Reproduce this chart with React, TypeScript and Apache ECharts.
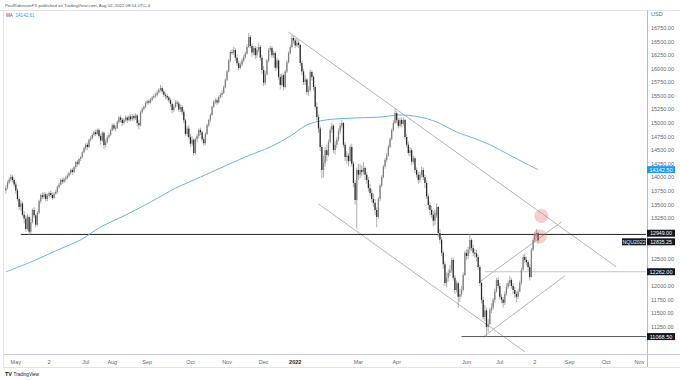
import React, { useEffect, useRef } from 'react';
import * as echarts from 'echarts';

// Daily candles [open, close, low, high], Apr 2021 – Aug 2, 2022 (NQ futures)
const candles: number[][] = [
  [13760,13805,13700,13850],[13810,13900,13780,13940],[13900,13960,13870,14000],[13960,14010,13920,14060],
  [14010,13950,13900,14040],[13950,13870,13820,13990],[13870,13760,13700,13920],[13760,13600,13560,13800],
  [13600,13455,13400,13640],[13460,13520,13380,13580],[13520,13310,13280,13560],[13310,13240,13150,13380],
  [13240,13050,13000,13300],[13050,13280,13020,13320],[13270,13000,12940,13300],[13000,13180,12960,13240],
  [13180,13400,13150,13430],[13400,13300,13250,13450],[13300,13125,13080,13330],[13130,13350,13100,13380],
  [13350,13560,13320,13590],[13560,13675,13520,13700],[13670,13640,13600,13720],[13640,13690,13600,13730],
  [13690,13600,13560,13720],[13600,13660,13560,13700],[13660,13710,13630,13740],[13710,13675,13640,13760],
  [13675,13620,13580,13720],[13620,13700,13600,13730],[13700,13730,13680,13770],[13730,13820,13700,13850],
  [13820,13870,13790,13900],[13870,13950,13850,13980],[13950,13920,13880,13990],[13920,13970,13890,14000],
  [13970,13990,13920,14030],[13990,14030,13960,14060],[14030,14080,14000,14110],[14080,14135,14050,14160],
  [14135,14100,14050,14170],[14100,14190,14080,14210],[14190,14280,14160,14300],[14280,14250,14200,14320],
  [14250,14340,14230,14360],[14340,14375,14300,14400],[14375,14460,14350,14480],[14460,14540,14440,14560],
  [14540,14600,14500,14630],[14600,14560,14500,14640],[14560,14690,14540,14710],[14690,14720,14660,14760],
  [14720,14780,14700,14810],[14780,14830,14750,14860],[14830,14800,14760,14880],[14800,14870,14780,14900],
  [14870,14760,14720,14900],[14760,14680,14600,14800],[14680,14820,14650,14850],[14820,14595,14520,14840],
  [14595,14650,14550,14700],[14650,14740,14620,14770],[14740,14780,14700,14820],[14780,14870,14760,14900],
  [14870,14960,14850,14990],[14960,14900,14860,15000],[14900,14910,14850,14960],[14910,15020,14890,15050],
  [15020,15100,14990,15130],[15100,15060,15010,15140],[15060,15000,14940,15100],[15000,15060,14970,15090],
  [15060,15100,15020,15140],[15100,15050,15000,15130],[15050,15120,15030,15150],[15120,15070,15030,15160],
  [15070,15130,15040,15160],[15130,15090,15040,15170],[15090,15140,15060,15180],[15140,15000,14950,15170],
  [15000,14960,14880,15060],[14960,15200,14940,15230],[15200,15260,15170,15290],[15260,15300,15230,15330],
  [15300,15370,15280,15400],[15370,15400,15340,15430],[15400,15380,15340,15440],[15380,15430,15360,15460],
  [15430,15470,15410,15500],[15470,15500,15450,15540],[15500,15515,15460,15560],[15515,15560,15490,15600],
  [15560,15610,15540,15640],[15610,15645,15580,15700],[15645,15580,15540,15680],[15580,15520,15480,15620],
  [15520,15500,15440,15560],[15500,15470,15420,15540],[15470,15420,15380,15500],[15420,15350,15300,15460],
  [15350,15240,15180,15380],[15240,15300,15200,15340],[15300,15380,15280,15420],[15380,15360,15300,15420],
  [15360,15250,15200,15400],[15250,15295,15200,15340],[15295,15210,15150,15330],[15210,15050,15000,15250],
  [15050,14800,14760,15080],[14800,14900,14750,14950],[14900,14745,14700,14960],[14745,14620,14560,14800],
  [14620,14690,14580,14760],[14690,14450,14400,14720],[14450,14700,14420,14730],[14700,14760,14650,14800],
  [14760,14870,14720,14900],[14870,14830,14780,14920],[14830,14700,14660,14860],[14700,14630,14580,14740],
  [14630,14800,14600,14830],[14800,14960,14780,14990],[14960,15055,14930,15080],[15055,15150,15020,15180],
  [15150,15300,15130,15320],[15300,15390,15280,15420],[15390,15420,15350,15460],[15420,15380,15330,15460],
  [15380,15480,15360,15510],[15480,15520,15450,15560],[15520,15555,15470,15600],[15555,15660,15530,15690],
  [15660,15795,15640,15820],[15795,15950,15770,15980],[15950,16150,15930,16180],[16150,16310,16120,16340],
  [16310,16300,16250,16360],[16300,16345,16260,16400],[16345,16200,16150,16380],[16200,16100,16050,16260],
  [16100,16015,15960,16150],[16015,16080,15990,16120],[16080,16150,16040,16190],[16150,16215,16120,16250],
  [16215,16280,16180,16320],[16280,16400,16260,16450],[16400,16585,16380,16660],[16585,16420,16380,16620],
  [16420,16300,16220,16460],[16300,16380,16250,16420],[16380,16250,16180,16420],[16250,16350,16200,16400],
  [16350,16400,16300,16480],[16400,16200,16150,16440],[16200,15975,15900,16260],[15975,15740,15680,16050],
  [15740,15900,15700,15960],[15900,16150,15880,16180],[16150,16345,16120,16380],[16345,16380,16300,16420],
  [16380,16250,16200,16420],[16250,16290,16200,16340],[16290,16020,15960,16320],[16020,16150,15980,16200],
  [16150,15850,15800,16180],[15850,15700,15620,15900],[15700,15880,15680,15920],[15880,15665,15600,15900],
  [15665,15950,15640,15980],[15950,16120,15920,16160],[16120,16290,16100,16320],[16290,16400,16260,16440],
  [16400,16565,16380,16620],[16565,16520,16460,16600],[16520,16430,16380,16560],[16430,16480,16400,16560],
  [16480,16435,16380,16530],[16435,16105,16050,16460],[16105,15950,15880,16150],[15950,15755,15700,16000],
  [15755,15800,15700,15880],[15800,15570,15520,15830],[15570,15600,15500,15680],[15600,15940,15580,15980],
  [15940,15850,15780,15970],[15850,15665,15600,15880],[15665,15300,15250,15700],[15300,15110,15050,15380],
  [15110,14900,14820,15160],[14900,14560,14480,14950],[14560,14135,13980,14600],[14135,14265,14000,14400],
  [14265,14500,14200,14560],[14500,14410,14300,14600],[14410,14650,14380,14700],[14650,14870,14620,14920],
  [14870,14950,14820,15000],[14950,14505,14450,14980],[14505,14600,14420,14660],[14600,14690,14540,14740],
  [14690,14850,14660,14900],[14850,14950,14800,15000],[14950,15000,14900,15060],[15000,14600,14550,15020],
  [14600,14375,14300,14650],[14375,14400,14250,14480],[14400,14300,14200,14450],[14300,14560,14280,14600],
  [14560,14250,14200,14620],[14250,13895,13820,14300],[13895,13585,13500,13950],[13585,14135,13050,14180],
  [14135,14050,13950,14250],[14050,14135,13980,14250],[14135,14100,14020,14220],[14100,14170,14050,14280],
  [14170,14050,13950,14200],[14050,13950,13880,14100],[13950,13800,13740,14000],[13800,13710,13650,13880],
  [13710,13600,13540,13780],[13600,13530,13450,13700],[13530,13400,13300,13600],[13400,13270,13080,13450],
  [13270,13600,13240,13640],[13600,13850,13560,13880],[13850,14005,13820,14040],[14005,14200,13980,14230],
  [14200,14320,14160,14360],[14320,14400,14280,14450],[14400,14560,14380,14600],[14560,14700,14530,14740],
  [14700,14870,14680,14900],[14870,15000,14840,15050],[15000,15185,14980,15260],[15185,15050,15000,15220],
  [15050,14950,14900,15100],[14950,15055,14920,15100],[15055,14980,14920,15100],[14980,15055,14950,15100],
  [15055,14745,14700,15080],[14745,14600,14550,14800],[14600,14450,14400,14660],[14450,14500,14380,14560],
  [14500,14285,14220,14540],[14285,14350,14250,14400],[14350,14135,14080,14380],[14135,14050,13990,14180],
  [14050,13950,13880,14100],[13950,14050,13900,14100],[14050,14135,14000,14200],[14135,14000,13950,14180],
  [14000,13895,13800,14050],[13895,13650,13600,13950],[13650,13490,13420,13700],[13490,13400,13300,13550],
  [13400,13310,13250,13480],[13310,13200,13100,13380],[13200,13350,13120,13400],[13300,13455,13250,13520],
  [13455,12975,12900,13470],[12975,12850,12780,13050],[12850,12610,12550,12900],[12610,12400,12320,12650],
  [12400,12055,12000,12450],[12055,12150,11980,12250],[12150,12240,12080,12300],[12240,12300,12180,12380],
  [12300,12480,12250,12520],[12480,12150,12100,12520],[12150,11925,11850,12200],[11925,12050,11880,12100],
  [12050,11800,11600,12080],[11800,11850,11700,11950],[11850,11925,11800,12000],[11925,12200,11900,12250],
  [12200,12610,12180,12650],[12610,12550,12480,12680],[12550,12665,12500,12720],[12665,12845,12600,12950],
  [12845,12700,12640,12880],[12700,12610,12550,12760],[12610,12600,12520,12680],[12600,12535,12450,12660],
  [12535,12350,12300,12580],[12350,12055,12000,12380],[12055,11740,11680,12080],[11740,11430,11380,11800],
  [11430,11550,11350,11650],[11550,11245,11068,11600],[11245,11300,11150,11400],[11300,11560,11280,11600],
  [11560,11600,11500,11680],[11600,11740,11560,11780],[11740,11900,11700,11950],[11900,12110,11880,12150],
  [12110,12000,11950,12160],[12000,11800,11750,12050],[11800,11750,11680,11850],[11750,11690,11600,11800],
  [11690,11850,11650,11900],[11850,11980,11820,12050],[11980,12050,11950,12100],[12050,12110,12000,12180],
  [12110,12000,11950,12150],[12000,11925,11850,12050],[11925,11850,11780,11980],[11850,11800,11700,11900],
  [11800,11900,11760,11950],[11900,12055,11880,12100],[12055,12300,12020,12340],[12300,12535,12280,12580],
  [12535,12480,12420,12600],[12480,12440,12380,12540],[12440,12350,12280,12480],[12350,12165,12100,12400],
  [12165,12665,12150,12700],[12665,12845,12640,12880],[12845,12950,12800,12990],[12950,12975,12880,13050],
  [12975,12835,12780,13000],
];

// 200-day moving average, read at sample bars [barIndex, value]
const smaPoints: number[][] = [
  [0,12260],[15,12440],[31,12660],[45,12850],[57,13085],[72,13305],[87,13545],[102,13800],
  [117,14005],[129,14170],[144,14375],[159,14560],[171,14760],[181,14965],[192,15055],[207,15090],
  [225,15110],[237,15150],[249,15110],[259,15020],[271,14835],[281,14725],[291,14600],[303,14410],
  [312,14265],[320,14142.5],
];

// Trend channel lines [[bar, price], [bar, price]]
const upperDownLine = [[170,16676],[367,12352]];
const lowerDownLine = [[188,13510],[312,10790]];
const upperUpLine = [[284,12055],[334,13178]];
const lowerUpLine = [[287,11061],[336,12184]];

// Horizontal levels [startBar, price]
const supportLevel = [9, 12949];
const midLevel = [288, 12262];
const lowLevel = [274, 11068.5];

// Highlighted touch points [bar, price]
const touchPoints = [[322,13289],[321,12911]];

const lastPrice = 12835.25;
const maValue = 14142.5;
const maHeader = '14142.61';

// Price-axis ticks hidden behind the price boxes
const hiddenTicks = [13000, 12750, 12250, 11000, 10750];

const barCount = 386;
const monthLabels = ['May','2','Jul','Aug','Sep','Oct','Nov','Dec','2022','Mar','Apr','Jun','Jul','2','Sep','Oct','Nov'];
const monthLabelIdx = [6,26,48,64,85,111,133,155,174,212,235,277,297,318,339,361,381];

const FONT = 'Liberation Sans';

export default function App() {
  const ref = useRef<HTMLDivElement>(null);
  useEffect(() => {
    const chart = echarts.init(ref.current!, null, { renderer: 'svg' });
    const categories = Array.from({ length: barCount }, (_, i) => String(i));
    const lastBar = barCount - 1;
    const labelMap: Record<number, string> = {};
    monthLabelIdx.forEach((idx, k) => { labelMap[idx] = monthLabels[k]; });

    const lineSeries = (data: number[][], color: string, width = 1) => ({
      type: 'line', data, symbol: 'none', silent: true, animation: false,
      lineStyle: { color, width }, z: 3,
    });

    const option: any = {
      animation: false,
      grid: { left: 5, right: 33, top: 14.42, bottom: 26.15 },
      xAxis: {
        type: 'category', data: categories, boundaryGap: true,
        axisLine: { show: false }, axisTick: { show: false }, splitLine: { show: false },
        axisLabel: {
          interval: (i: number) => labelMap[i] !== undefined,
          formatter: (_v: string, i: number) => labelMap[i] === '2022' ? '{b|2022}' : (labelMap[i] || ''),
          fontSize: 5.5, color: '#666', fontFamily: FONT, margin: 5,
          rich: { b: { fontSize: 5.5, fontWeight: 'bold', color: '#222', fontFamily: FONT } },
        },
      },
      yAxis: {
        type: 'value', position: 'right', min: 10750, max: 17000, interval: 250, scale: true,
        axisLine: { show: false }, axisTick: { show: false }, splitLine: { show: false },
        axisLabel: {
          fontSize: 5.5, color: '#666', fontFamily: FONT, margin: 4,
          formatter: (v: number) => (v === 17000 ? 'USD' : hiddenTicks.includes(v) ? '' : v.toFixed(2)),
        },
      },
      series: [
        lineSeries(upperDownLine, '#b4b4b4'),
        lineSeries(lowerDownLine, '#b4b4b4'),
        lineSeries(upperUpLine, '#b4b4b4'),
        lineSeries(lowerUpLine, '#b4b4b4'),
        lineSeries([[supportLevel[0], supportLevel[1]], [lastBar, supportLevel[1]]], '#222222'),
        lineSeries([[midLevel[0], midLevel[1]], [lastBar, midLevel[1]]], '#c4c4c4'),
        lineSeries([[lowLevel[0], lowLevel[1]], [lastBar, lowLevel[1]]], '#555555'),
        {
          type: 'line', data: smaPoints, symbol: 'none', smooth: 0.3, silent: true,
          lineStyle: { color: '#64b0f2', width: 1 }, z: 4,
        },
        {
          type: 'custom', z: 5, silent: true,
          data: candles.map((c, i) => [i, c[0], c[1], c[2], c[3]]),
          encode: { x: 0, y: [1, 2, 3, 4] },
          renderItem: (_p: any, api: any) => {
            const i = api.value(0);
            const o = api.value(1), c = api.value(2), l = api.value(3), h = api.value(4);
            const pO = api.coord([i, o]);
            const pC = api.coord([i, c]);
            const pL = api.coord([i, l]);
            const pH = api.coord([i, h]);
            const w = api.size([1, 0])[0] * 0.75;
            const top = Math.min(pO[1], pC[1]);
            const hh = Math.max(Math.abs(pO[1] - pC[1]), 1);
            const up = c >= o;
            return {
              type: 'group',
              children: [
                { type: 'line', shape: { x1: pH[0], y1: pH[1], x2: pL[0], y2: pL[1] }, style: { stroke: '#a6a6a6', lineWidth: 0.9 } },
                { type: 'rect', shape: { x: pO[0] - w / 2, y: top, width: w, height: hh }, style: { fill: up ? '#7d7d7d' : '#262626' } },
              ],
            };
          },
        },
        {
          type: 'scatter', data: touchPoints, symbol: 'circle', symbolSize: 14, silent: true, z: 6,
          itemStyle: { color: 'rgba(224,110,110,0.42)' },
        },
      ],
    };
    chart.setOption(option);

    const py = (v: number) => chart.convertToPixel({ yAxisIndex: 0 }, v) as number;
    const box = (y: number, txt: string, fill: string, x = 647, w = 28, fs = 5.5) => ({
      type: 'group', z: 100,
      children: [
        { type: 'rect', shape: { x, y: y - 3.5, width: w, height: 7 }, style: { fill } },
        { type: 'text', style: { x: x + w / 2, y, text: txt, fill: '#ffffff', fontSize: fs, fontFamily: FONT, align: 'center', verticalAlign: 'middle' } },
      ],
    });
    const gray = '#c9ccd3';
    const ySupport = py(supportLevel[1]) - 1.2;
    const yLast = py(lastPrice) + 1.2;
    chart.setOption({
      graphic: [
        { type: 'line', shape: { x1: 0, y1: 10.5, x2: 680, y2: 10.5 }, style: { stroke: '#e0e3eb', lineWidth: 1 } },
        { type: 'line', shape: { x1: 3.5, y1: 10.5, x2: 3.5, y2: 367.5 }, style: { stroke: '#e0e3eb', lineWidth: 1 } },
        { type: 'line', shape: { x1: 647.5, y1: 10.5, x2: 647.5, y2: 367.5 }, style: { stroke: '#b8bbc2', lineWidth: 1 } },
        { type: 'line', shape: { x1: 3.5, y1: 354.5, x2: 680, y2: 354.5 }, style: { stroke: gray, lineWidth: 1 } },
        { type: 'line', shape: { x1: 3.5, y1: 367.5, x2: 680, y2: 367.5 }, style: { stroke: '#e0e3eb', lineWidth: 1 } },
        { type: 'text', style: { x: 5, y: 5, text: 'PaulRobinsonFX published on TradingView.com, Aug 02, 2022 08:54 UTC-4', fill: '#555', fontSize: 4.3, fontFamily: FONT, verticalAlign: 'middle' } },
        { type: 'text', style: { x: 6, y: 15.5, text: 'MA', fill: '#555', fontSize: 4.6, fontFamily: FONT, verticalAlign: 'middle' } },
        { type: 'text', style: { x: 15.5, y: 15.5, text: maHeader, fill: '#2196f3', fontSize: 4.6, fontFamily: FONT, verticalAlign: 'middle' } },
        { type: 'text', style: { x: 5, y: 374, text: 'TV', fill: '#131722', fontSize: 5.5, fontWeight: 'bold', fontFamily: FONT, verticalAlign: 'middle' } },
        { type: 'text', style: { x: 13.5, y: 374, text: 'TradingView', fill: '#131722', fontSize: 4.6, fontFamily: FONT, verticalAlign: 'middle' } },
        box(py(maValue), maValue.toFixed(2), '#2196f3'),
        box(ySupport, supportLevel[1].toFixed(2), '#131722', 647, 28, 5.2),
        box(yLast, lastPrice.toFixed(2), '#131722', 647, 28, 5.2),
        box(yLast, 'NQU2022', '#131722', 622, 24, 5.2),
        box(py(midLevel[1]), midLevel[1].toFixed(2), '#131722'),
        box(py(lowLevel[1]), lowLevel[1].toFixed(2), '#131722'),
      ],
    });
    return () => chart.dispose();
  }, []);
  return <div ref={ref} style={{ position: 'fixed', left: 0, top: 0, width: 680, height: 380, background: '#fff' }} />;
}
